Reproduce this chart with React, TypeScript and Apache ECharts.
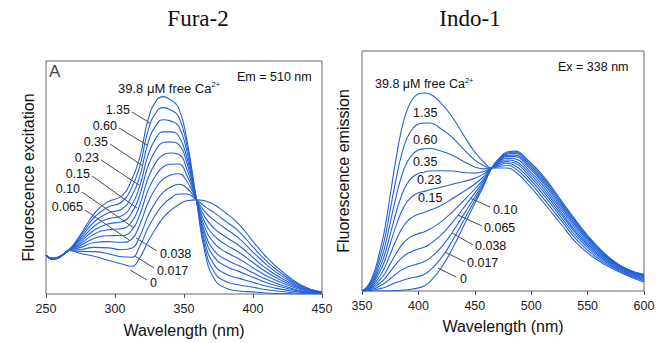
import React, { useEffect, useRef } from 'react';
import * as echarts from 'echarts';

// ---------- Fura-2 excitation (Em = 510 nm) ----------
const FURA_NM = [250, 255, 260, 267, 275, 285, 295, 305, 312, 318, 324, 330, 335, 340, 346, 352, 359, 365, 372, 380, 390, 400, 410, 420, 435, 450];
const FURA_CA_LABELS = ['0', '0.017', '0.038', '0.065', '0.10', '0.15', '0.23', '0.35', '0.60', '1.35', '39.8'];
const FURA_0 = [16.6, 14.9, 15.7, 18.7, 17.4, 16.2, 14.5, 12.9, 11.9, 15.6, 22.6, 28.5, 32.8, 35.7, 38.3, 40.0, 40.4, 40.0, 38.3, 34.9, 29.8, 22.6, 15.7, 10.2, 3.8, 0.9];
const FURA_0017 = [16.6, 14.9, 15.8, 18.7, 18.3, 18.2, 17.3, 16.0, 15.8, 20.5, 28.4, 34.5, 38.5, 40.9, 42.9, 42.9, 40.4, 37.6, 34.8, 31.3, 26.7, 20.2, 14.0, 9.1, 3.4, 0.8];
const FURA_0038 = [16.6, 15.0, 15.8, 18.8, 19.1, 20.0, 19.8, 19.0, 19.6, 24.8, 33.6, 39.9, 43.7, 45.7, 47.1, 45.5, 40.4, 35.4, 31.6, 28.1, 23.8, 18.0, 12.5, 8.1, 3.0, 0.7];
const FURA_0065 = [16.6, 15.0, 15.9, 18.8, 20.0, 22.1, 22.5, 22.2, 23.5, 29.8, 39.3, 45.9, 49.4, 51.0, 51.6, 48.4, 40.4, 33.1, 28.1, 24.6, 20.7, 15.7, 10.8, 7.0, 2.6, 0.6];
const FURA_010 = [16.6, 15.1, 15.9, 18.9, 20.8, 23.9, 25.0, 25.1, 27.2, 34.1, 44.6, 51.4, 54.6, 55.7, 55.8, 51.1, 40.4, 30.9, 24.9, 21.3, 17.8, 13.5, 9.3, 6.0, 2.2, 0.5];
const FURA_015 = [16.6, 15.1, 16.0, 18.9, 21.6, 25.7, 27.6, 28.0, 30.9, 38.3, 49.8, 56.8, 59.8, 60.5, 60.0, 53.7, 40.4, 28.7, 21.7, 18.1, 15.0, 11.3, 7.7, 5.0, 1.8, 0.4];
const FURA_023 = [16.6, 15.2, 16.0, 18.9, 22.4, 27.5, 30.1, 31.0, 34.7, 42.6, 55.0, 62.3, 65.0, 65.3, 64.2, 56.4, 40.4, 26.5, 18.5, 14.9, 12.1, 9.1, 6.2, 4.0, 1.4, 0.3];
const FURA_035 = [16.6, 15.2, 16.1, 19.0, 23.2, 29.2, 32.3, 33.6, 38.1, 46.4, 59.7, 67.2, 69.6, 69.6, 67.9, 58.7, 40.4, 24.6, 15.7, 12.0, 9.6, 7.2, 4.8, 3.1, 1.1, 0.3];
const FURA_060 = [16.6, 15.2, 16.1, 19.0, 24.0, 31.0, 34.8, 36.5, 41.8, 50.6, 65.0, 72.6, 74.8, 74.3, 72.1, 61.4, 40.4, 22.4, 12.5, 8.7, 6.7, 5.0, 3.3, 2.1, 0.7, 0.2];
const FURA_135 = [16.6, 15.3, 16.2, 19.1, 24.8, 32.9, 37.3, 39.5, 45.5, 54.9, 70.2, 78.1, 80.0, 79.1, 76.2, 64.0, 40.4, 20.3, 9.3, 5.5, 3.9, 2.9, 1.8, 1.1, 0.3, 0.1];
const FURA_398 = [16.6, 15.3, 16.2, 19.1, 25.5, 34.5, 39.6, 42.1, 48.9, 58.7, 74.9, 83.0, 84.7, 83.4, 80.0, 66.4, 40.4, 18.3, 6.4, 2.6, 1.3, 0.9, 0.4, 0.2, 0, 0];
const FURA_TICKS = [250, 300, 350, 400, 450];

// ---------- Indo-1 emission (Ex = 338 nm) ----------
const INDO_NM = [350, 355, 360, 365, 370, 375, 380, 385, 390, 395, 400, 405, 410, 420, 430, 440, 450, 458, 465, 472, 478, 485, 497, 512, 527, 541, 556, 571, 586, 600];
const INDO_CA_LABELS = ['0', '0.017', '0.038', '0.065', '0.10', '0.15', '0.23', '0.35', '0.60', '1.35', '39.8'];
const INDO_0 = [0, 0, 0, 0, 0, 0.1, 0.2, 0.3, 0.5, 0.8, 1.3, 2.1, 3.8, 9.5, 17.5, 27.0, 36.5, 44.0, 51.25, 55.5, 57.8, 58.3, 54.6, 47.1, 37.5, 28.5, 20.0, 13.3, 9.0, 7.0];
const INDO_0017 = [0, 0.1, 0.4, 0.9, 1.5, 2.5, 3.5, 4.3, 5.0, 5.6, 6.1, 6.9, 8.5, 13.6, 20.8, 29.3, 37.8, 44.6, 51.25, 55.2, 57.4, 57.8, 54.0, 46.4, 36.9, 28.0, 19.6, 13.1, 8.8, 6.8];
const INDO_0038 = [0, 0.3, 0.8, 1.9, 3.2, 5.1, 7.0, 8.7, 9.9, 10.7, 11.4, 12.2, 13.6, 18.1, 24.4, 31.8, 39.2, 45.2, 51.25, 55.0, 57.0, 57.3, 53.4, 45.7, 36.3, 27.4, 19.2, 12.8, 8.7, 6.6];
const INDO_0065 = [0, 0.4, 1.3, 3.0, 5.1, 8.1, 11.1, 13.7, 15.5, 16.6, 17.5, 18.2, 19.5, 23.3, 28.5, 34.6, 40.8, 46.0, 51.25, 54.6, 56.5, 56.6, 52.6, 44.9, 35.5, 26.7, 18.8, 12.6, 8.4, 6.4];
const INDO_010 = [0, 0.6, 1.9, 4.2, 7.1, 11.3, 15.4, 19.0, 21.5, 23.0, 23.9, 24.6, 25.7, 28.8, 32.9, 37.6, 42.5, 46.7, 51.25, 54.3, 56.0, 56.0, 51.8, 44.1, 34.7, 26.0, 18.3, 12.3, 8.2, 6.1];
const INDO_015 = [0, 0.8, 2.5, 5.7, 9.7, 15.3, 20.9, 25.7, 29.0, 30.9, 32.0, 32.7, 33.6, 35.6, 38.4, 41.4, 44.6, 47.7, 51.25, 53.9, 55.3, 55.1, 50.8, 43.0, 33.7, 25.1, 17.6, 11.9, 8.0, 5.8];
const INDO_023 = [0, 1.0, 3.3, 7.4, 12.4, 19.7, 26.9, 33.0, 37.2, 39.6, 40.9, 41.5, 42.2, 43.2, 44.5, 45.6, 47.0, 48.8, 51.25, 53.4, 54.6, 54.2, 49.7, 41.8, 32.6, 24.1, 16.9, 11.5, 7.7, 5.4];
const INDO_035 = [0, 1.2, 4.0, 8.9, 15.0, 23.6, 32.3, 39.7, 44.7, 47.5, 49.0, 49.5, 50.0, 50.1, 50.0, 49.4, 49.1, 49.8, 51.25, 53.0, 53.9, 53.4, 48.7, 40.7, 31.6, 23.3, 16.3, 11.1, 7.4, 5.1];
const INDO_060 = [0, 1.5, 4.8, 10.7, 18.0, 28.4, 38.8, 47.7, 53.7, 57.0, 58.7, 59.2, 59.4, 58.3, 56.6, 54.0, 51.7, 50.9, 51.25, 52.5, 53.2, 52.4, 47.5, 39.4, 30.4, 22.2, 15.6, 10.7, 7.0, 4.7];
const INDO_135 = [0, 1.8, 5.7, 12.7, 21.5, 33.8, 46.2, 56.7, 63.8, 67.7, 69.6, 70.0, 70.0, 67.6, 64.0, 59.1, 54.6, 52.2, 51.25, 51.9, 52.3, 51.3, 46.2, 37.9, 29.1, 21.0, 14.7, 10.2, 6.7, 4.3];
const INDO_398 = [0, 2.1, 6.7, 15.0, 25.4, 40.0, 54.6, 67.1, 75.4, 80.0, 82.1, 82.5, 82.1, 78.3, 72.5, 65.0, 57.9, 53.75, 51.25, 51.25, 51.25, 50.0, 44.6, 36.25, 27.5, 19.6, 13.75, 9.6, 6.25, 3.75];
const INDO_TICKS = [350, 400, 450, 500, 550, 600];

const FURA_SERIES = [FURA_0, FURA_0017, FURA_0038, FURA_0065, FURA_010, FURA_015, FURA_023, FURA_035, FURA_060, FURA_135, FURA_398];
const INDO_SERIES = [INDO_0, INDO_0017, INDO_0038, INDO_0065, INDO_010, INDO_015, INDO_023, INDO_035, INDO_060, INDO_135, INDO_398];

// ---------- layout (pixels) ----------
const SANS = "'Liberation Sans', Arial, Helvetica, sans-serif";
const SERIF = "'Liberation Serif', 'Times New Roman', serif";
const LINE_COLOR = '#2462d6';
const FRAME_COLOR = '#666666';

type Lab = { t: string; x: number; y: number; a: 'left' | 'right'; l?: [number, number, number, number] };
const FURA_LABEL_LAYOUT: Lab[] = [
  { t: '1.35', x: 130, y: 110, a: 'right', l: [132, 112, 150, 123] },
  { t: '0.60', x: 117, y: 126, a: 'right', l: [119, 128, 147, 145] },
  { t: '0.35', x: 108, y: 142, a: 'right', l: [110, 144, 143, 166] },
  { t: '0.23', x: 99, y: 158, a: 'right', l: [101, 160, 139, 185] },
  { t: '0.15', x: 90, y: 174, a: 'right', l: [92, 176, 137, 208] },
  { t: '0.10', x: 80, y: 189, a: 'right', l: [82, 192, 134, 228] },
  { t: '0.065', x: 83, y: 207, a: 'right', l: [85, 210, 129, 240] },
  { t: '0.038', x: 160, y: 254, a: 'left', l: [157, 251, 136, 238] },
  { t: '0.017', x: 157, y: 271, a: 'left', l: [154, 268, 135, 256] },
  { t: '0', x: 150, y: 283, a: 'left', l: [147, 280, 130, 270] },
];
const INDO_LABEL_LAYOUT: Lab[] = [
  { t: '1.35', x: 413, y: 113, a: 'left' },
  { t: '0.60', x: 413, y: 140, a: 'left' },
  { t: '0.35', x: 413, y: 162, a: 'left' },
  { t: '0.23', x: 417, y: 180, a: 'left' },
  { t: '0.15', x: 418, y: 198, a: 'left' },
  { t: '0.10', x: 493, y: 210, a: 'left', l: [470, 198, 490, 207] },
  { t: '0.065', x: 484, y: 228, a: 'left', l: [458, 215, 482, 226] },
  { t: '0.038', x: 475, y: 246, a: 'left', l: [452, 233, 473, 245] },
  { t: '0.017', x: 467, y: 263, a: 'left', l: [445, 252, 465, 262] },
  { t: '0', x: 460, y: 279, a: 'left', l: [438, 268, 456, 277] },
];

function textEl(text: string, x: number, y: number, align: string, size: number, family = SANS, extra: any = {}) {
  return {
    type: 'text',
    x,
    y,
    silent: true,
    style: {
      text,
      fontSize: size,
      fontFamily: family,
      fill: '#111',
      align,
      textAlign: align,
      verticalAlign: 'middle',
      textVerticalAlign: 'middle',
      ...extra,
    },
  };
}

function caText(x: number, y: number, size: number) {
  return {
    type: 'text',
    x,
    y,
    silent: true,
    style: {
      text: '{m|39.8 μM free Ca}{s|2+}',
      align: 'left',
      verticalAlign: 'middle',
      rich: {
        m: { fontSize: size, fontFamily: SANS, fill: '#111', lineHeight: size + 2 },
        s: { fontSize: 7.5, fontFamily: SANS, fill: '#111', verticalAlign: 'top', lineHeight: 8 },
      },
    },
  };
}

function labelEls(list: Lab[]) {
  const out: any[] = [];
  list.forEach((l) => {
    out.push(textEl(l.t, l.x, l.y, l.a, 12.5));
    if (l.l) {
      out.push({
        type: 'line',
        silent: true,
        shape: { x1: l.l[0], y1: l.l[1], x2: l.l[2], y2: l.l[3] },
        style: { stroke: '#333', lineWidth: 0.9 },
      });
    }
  });
  return out;
}

function makeSeries(nm: number[], all: number[][], names: string[], idx: number) {
  return all.map((vals, k) => ({
    type: 'line',
    name: (idx === 0 ? 'Fura-2 ' : 'Indo-1 ') + names[k],
    xAxisIndex: idx,
    yAxisIndex: idx,
    data: nm.map((x, i) => [x, vals[i]]),
    showSymbol: false,
    smooth: 0.5,
    silent: true,
    lineStyle: { color: LINE_COLOR, width: 1.1 },
    z: 2,
  }));
}

function xAxisCfg(grid: number, min: number, max: number, ticks: number[], nameGap: number) {
  return {
    gridIndex: grid,
    type: 'value',
    min,
    max,
    interval: 50,
    axisLine: { show: false },
    axisTick: { show: true, inside: false, length: 4, lineStyle: { color: '#555', width: 1 } },
    axisLabel: {
      fontSize: 12.5,
      fontFamily: SANS,
      color: '#222',
      margin: 8,
      formatter: (v: number) => (ticks.includes(v) ? String(v) : ''),
    },
    splitLine: { show: false },
    name: 'Wavelength (nm)',
    nameLocation: 'middle',
    nameGap,
    nameTextStyle: { fontSize: 16, fontFamily: SANS, color: '#111' },
  };
}

function yAxisCfg(grid: number, name: string, nameGap: number) {
  return {
    gridIndex: grid,
    type: 'value',
    min: 0,
    max: 100,
    axisLine: { show: false },
    axisTick: { show: false },
    axisLabel: { show: false },
    splitLine: { show: false },
    name,
    nameLocation: 'middle',
    nameGap,
    nameRotate: 90,
    nameTextStyle: { fontSize: 16, fontFamily: SANS, color: '#111' },
  };
}

export default function App() {
  const ref = useRef<HTMLDivElement>(null);
  useEffect(() => {
    if (!ref.current) return;
    const chart = echarts.init(ref.current, undefined, { renderer: 'svg' });
    chart.setOption({
      animation: false,
      backgroundColor: '#ffffff',
      grid: [
        { left: 46, top: 61, width: 276, height: 235, show: true, borderColor: FRAME_COLOR, borderWidth: 1, backgroundColor: 'transparent' },
        { left: 362, top: 51, width: 282, height: 240, show: true, borderColor: FRAME_COLOR, borderWidth: 1, backgroundColor: 'transparent' },
      ],
      xAxis: [xAxisCfg(0, 250, 450, FURA_TICKS, 28), xAxisCfg(1, 350, 600, INDO_TICKS, 27)],
      yAxis: [yAxisCfg(0, 'Fluorescence excitation', 10), yAxisCfg(1, 'Fluorescence emission', 11)],
      series: [
        ...makeSeries(FURA_NM, FURA_SERIES, FURA_CA_LABELS, 0),
        ...makeSeries(INDO_NM, INDO_SERIES, INDO_CA_LABELS, 1),
      ],
      graphic: [
        textEl('Fura-2', 198, 18, 'center', 23, SERIF),
        textEl('Indo-1', 470, 18, 'center', 23, SERIF),
        textEl('A', 49, 71, 'left', 17, SANS, { fill: '#444' }),
        textEl('Em = 510 nm', 237, 77, 'left', 12.5),
        caText(118, 88, 13),
        textEl('Ex = 338 nm', 558, 67, 'left', 12.5),
        caText(375, 84, 12.5),
        ...labelEls(FURA_LABEL_LAYOUT),
        ...labelEls(INDO_LABEL_LAYOUT),
      ],
    });
    return () => chart.dispose();
  }, []);
  return <div ref={ref} style={{ position: 'fixed', left: 0, top: 0, width: 660, height: 343, background: '#fff' }} />;
}
